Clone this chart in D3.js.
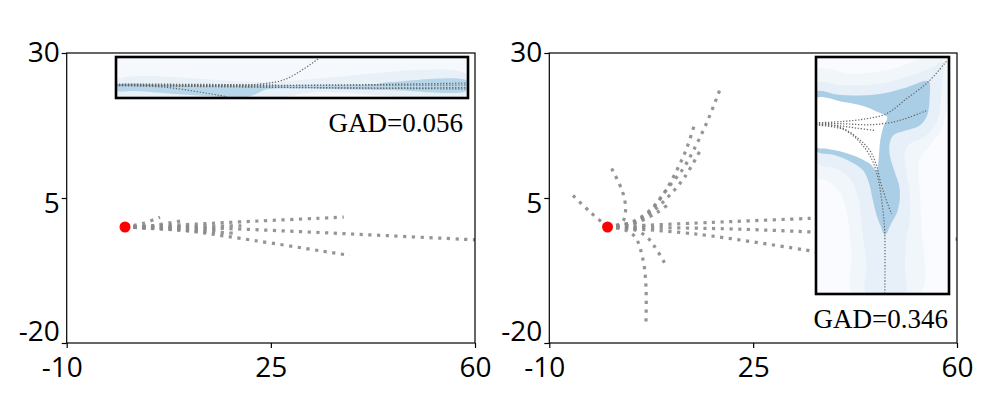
<!DOCTYPE html>
<html><head><meta charset="utf-8">
<script src="https://cdn.jsdelivr.net/npm/d3@7"></script>
<style>body{margin:0;background:#fff}</style>
</head><body>
<svg id="chart" width="987" height="394"></svg>
<script>
// ---- data ----
const xTicks = [-10, 25, 60];
const yTicks = [30, 5, -20];
const gadLabels = ["GAD=0.056", "GAD=0.346"];
const origin = [0, 0];

const leftTrajectories = [
  [[0,0],[10,0.4],[20,0.9],[37.5,1.7]],
  [[0,0],[10,-0.6],[20,-2.0],[38.5,-4.9]],
  [[0,0],[15,-0.2],[30,-0.8],[45,-1.5],[62,-2.3]],
  [[0,0],[3,0.6],[6,1.7]],
  [[0,0],[5,0.3],[10.3,1.2]],
  [[0,0],[8,-0.3],[16,-0.5]],
  [[0,0],[10,0.1],[20,0.2]],
  [[0,0],[9,-0.5],[19,-1.1]]
];
const rightTrajectories = [
  [[0,0],[-3,2.6],[-6,5.5]],
  [[0,0],[2.5,0.8],[3.1,3],[2.6,6],[0.7,10.1]],
  [[0,0],[3,-0.5],[4.8,-1.8],[6.1,-5.7],[6.6,-10.3],[6.6,-16.3]],
  [[0,0],[4,-0.3],[6.5,-1.5],[8.1,-3.4],[9.85,-6.3]],
  [[0,0],[4,0.8],[7.3,2.9],[10.1,6.4],[13,10.1],[14.8,13.3],[17,17.9],[19.3,23.7]],
  [[0,0],[4,0.6],[7,2.4],[9.5,5.5],[11.9,9.8],[13.6,13.6],[15,17.9]],
  [[0,0],[4,0.5],[7.5,2.5],[10.5,5.3],[13.3,8.7],[15.8,13]],
  [[0,0],[5,0.8],[8.5,2.5],[10.7,4.1]],
  [[0,0],[18,0.8],[40,1.7]],
  [[0,0],[20,-0.3],[36,-0.9],[62,-2.2]],
  [[0,0],[15,-1.2],[36,-4.3],[40,-5]]
];

// left inset (local units: x 0..352, y 0..41)
const leftInsetBand = [[0,24],[150,25],[352,18],[352,37],[200,35],[160,41],[0,39]];
const leftInsetBlue = [[0,28.5],[60,28.5],[139,28.8],[180,28.6],[255,27.5],[275,25],[352,24],[352,33],[270,33],[180,31.5],[150,32.5],[140,37],[129,40.5],[90,39],[60,37],[20,34],[0,33.5]];
const leftInsetPaths = [
  [[0,27],[100,27.5],[170,28.5],[352,26]],
  [[0,28],[120,29.5],[250,31],[352,30.5]],
  [[0,28.5],[150,30.3],[352,32]],
  [[0,27.5],[140,28.2],[352,28]],
  [[0,28],[100,28.5],[140,27.5],[170,22],[202,2]],
  [[0,28.5],[50,30.3],[111,39.7]]
];

// right inset (local units: x 18..418, y 15..725)
const rightInsetBand2 = [[18,55],[120,65],[230,55],[320,25],[345,15],[418,15],[418,100],[400,220],[360,280],[330,320],[330,420],[335,520],[330,725],[130,725],[125,600],[110,480],[90,420],[50,385],[18,375]];
const rightInsetBand1 = [[18,95],[100,100],[200,97],[290,75],[370,45],[398,28],[395,120],[385,200],[350,250],[300,275],[285,300],[290,360],[300,420],[300,500],[290,560],[285,640],[285,725],[170,725],[170,640],[160,560],[150,470],[140,420],[120,380],[80,350],[18,330]];
const rightInsetBlue = [[18,120],[80,127],[150,130],[220,124],[290,106],[356,88],[360,130],[352,190],[330,220],[285,236],[252,248],[240,272],[240,310],[255,360],[268,400],[270,440],[262,480],[245,512],[225,548],[212,520],[200,488],[188,440],[178,395],[160,355],[125,330],[70,308],[18,295]];
const rightInsetHole = [[18,140],[100,150],[160,162],[200,178],[232,195],[222,220],[212,260],[208,300],[205,335],[200,355],[180,335],[150,318],[100,300],[50,290],[18,284]];
const rightInsetPaths = [
  [[18,212],[100,208],[170,200],[230,185],[290,140],[355,90],[410,28]],
  [[18,213],[100,215],[180,218],[250,210],[300,195],[352,175]],
  [[18,215],[80,220],[140,228],[195,235]],
  [[18,217],[90,225],[140,255],[180,295],[200,340],[212,390],[228,440],[245,485]],
  [[18,219],[100,232],[150,270],[185,320],[205,380],[215,440],[222,500],[225,548],[225,725]]
];

// ---- layout ----
const svg = d3.select("#chart");
const plotTop = 53, plotBottom = 343;
const panels = [
  {x0: 66.7, x1: 475, traj: leftTrajectories, gad: gadLabels[0], gadX: 463, gadY: 132},
  {x0: 549.3, x1: 957, traj: rightTrajectories, gad: gadLabels[1], gadX: 948, gadY: 328}
];
const y = d3.scaleLinear().domain([-20, 30]).range([plotBottom, plotTop]);
const tickFont = "'Open Sans', 'Liberation Sans', sans-serif";
const yLabelShift = {30: 0, 5: 6, "-20": -11};
const fmt = d => String(d);

panels.forEach((p, i) => {
  const x = d3.scaleLinear().domain([-10, 60]).range([p.x0, p.x1]);
  const g = svg.append("g");
  const clipId = "clip" + i;
  svg.append("clipPath").attr("id", clipId).append("rect")
    .attr("x", p.x0).attr("y", plotTop).attr("width", p.x1 - p.x0).attr("height", plotBottom - plotTop);

  const line = d3.line().x(d => x(d[0])).y(d => y(d[1])).curve(d3.curveCatmullRom);
  const tg = g.append("g").attr("clip-path", `url(#${clipId})`);
  tg.selectAll("path.traj").data(p.traj).join("path")
    .attr("class", "traj")
    .attr("d", line)
    .attr("fill", "none")
    .attr("stroke", "#8a8a8a")
    .attr("stroke-width", 3.2)
    .attr("stroke-dasharray", "3.2 5.5")
    .attr("opacity", 0.9);

  g.append("circle").attr("cx", x(origin[0])).attr("cy", y(origin[1])).attr("r", 5.5).attr("fill", "#ff0000");

  // inset
  const ig = g.append("g");
  if (i === 0) {
    const ix = d3.scaleLinear().domain([0, 352]).range([116, 468]);
    const iy = d3.scaleLinear().domain([0, 41]).range([57, 98]);
    const lnc = d3.line().x(d => ix(d[0])).y(d => iy(d[1])).curve(d3.curveCatmullRomClosed);
    const iclip = "iclip0";
    svg.append("clipPath").attr("id", iclip).append("rect").attr("x", 116).attr("y", 57).attr("width", 352).attr("height", 41);
    const ic = ig.append("g").attr("clip-path", `url(#${iclip})`);
    ic.append("rect").attr("x", 116).attr("y", 57).attr("width", 352).attr("height", 41).attr("fill", "#f5f8fc");
    ic.append("path").attr("d", lnc(leftInsetBand)).attr("fill", "#e8f0f8");
    ic.append("path").attr("d", lnc(leftInsetBlue)).attr("fill", "#b7d6ea");
    ic.selectAll("path.ip").data(leftInsetPaths).join("path").attr("class", "ip")
      .attr("d", d3.line().x(d => ix(d[0])).y(d => iy(d[1])).curve(d3.curveCatmullRom))
      .attr("fill", "none").attr("stroke", "#666").attr("stroke-width", 1.2).attr("stroke-dasharray", "1.3 1.7");
    ig.append("rect").attr("x", 116).attr("y", 57).attr("width", 352).attr("height", 41)
      .attr("fill", "none").attr("stroke", "#000").attr("stroke-width", 2.6);
  } else {
    const ix = d3.scaleLinear().domain([18, 418]).range([816, 949]);
    const iy = d3.scaleLinear().domain([15, 725]).range([57, 294]);
    const lnc = d3.line().x(d => ix(d[0])).y(d => iy(d[1])).curve(d3.curveCatmullRomClosed);
    const iclip = "iclip1";
    svg.append("clipPath").attr("id", iclip).append("rect").attr("x", 816).attr("y", 57).attr("width", 133).attr("height", 237);
    const ic = ig.append("g").attr("clip-path", `url(#${iclip})`);
    ic.append("rect").attr("x", 816).attr("y", 57).attr("width", 133).attr("height", 237).attr("fill", "#f9fbfe");
    ic.append("path").attr("d", lnc(rightInsetBand2)).attr("fill", "#f1f6fb");
    ic.append("path").attr("d", lnc(rightInsetBand1)).attr("fill", "#e7f0f8");
    ic.append("path").attr("d", lnc(rightInsetBlue)).attr("fill", "#aacee5");
    ic.append("path").attr("d", lnc(rightInsetHole)).attr("fill", "#ffffff");
    ic.selectAll("path.ip").data(rightInsetPaths).join("path").attr("class", "ip")
      .attr("d", d3.line().x(d => ix(d[0])).y(d => iy(d[1])).curve(d3.curveCatmullRom))
      .attr("fill", "none").attr("stroke", "#666").attr("stroke-width", 1.2).attr("stroke-dasharray", "1.3 1.7");
    ig.append("rect").attr("x", 816).attr("y", 57).attr("width", 133).attr("height", 237)
      .attr("fill", "none").attr("stroke", "#000").attr("stroke-width", 2.6);
  }

  g.append("text").attr("x", p.gadX).attr("y", p.gadY).attr("text-anchor", "end")
    .attr("font-family", "'Liberation Serif', 'Times New Roman', serif").attr("font-size", 27)
    .attr("fill", "#000").text(p.gad);

  // frame
  g.append("rect").attr("x", p.x0).attr("y", plotTop).attr("width", p.x1 - p.x0).attr("height", plotBottom - plotTop)
    .attr("fill", "none").attr("stroke", "#000").attr("stroke-width", 1.2);

  // axes
  const ya = g.append("g").attr("transform", `translate(${p.x0},0)`)
    .call(d3.axisLeft(y).tickValues(yTicks).tickSize(5).tickSizeOuter(0).tickPadding(2).tickFormat(fmt));
  ya.select(".domain").remove();
  ya.selectAll("line").attr("stroke", "#000").attr("stroke-width", 1.2);
  ya.selectAll("text").attr("font-family", tickFont).attr("font-size", 28).attr("fill", "#000")
    .attr("transform", d => `translate(0,${yLabelShift[d] || 0})`);

  const xa = g.append("g").attr("transform", `translate(0,${plotBottom})`)
    .call(d3.axisBottom(x).tickValues(xTicks).tickSize(5).tickSizeOuter(0).tickPadding(9).tickFormat(fmt));
  xa.select(".domain").remove();
  xa.selectAll("line").attr("stroke", "#000").attr("stroke-width", 1.2);
  xa.selectAll("text").attr("font-family", tickFont).attr("font-size", 28).attr("fill", "#000")
    .attr("dx", d => d < 0 ? -5 : 0);
});
</script>
</body></html>
